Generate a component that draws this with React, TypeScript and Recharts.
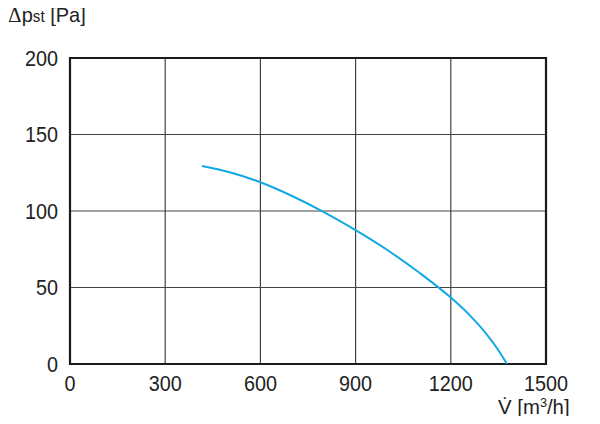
import React from 'react';
import { LineChart, Line, XAxis, YAxis, CartesianGrid, ReferenceArea } from 'recharts';

const flowRates = [416, 500, 600, 700, 800, 900, 1000, 1100, 1200, 1260, 1310, 1350, 1377];
const pressures = [129.4, 125.5, 118.8, 109.8, 99.3, 87.5, 74.5, 59.8, 43.4, 31.8, 20.2, 9, 0];
const xTicks = [0, 300, 600, 900, 1200, 1500];
const yTicks = [0, 50, 100, 150, 200];

const data = flowRates.map((v, i) => ({ v, p: pressures[i] }));

const FONT = '"Liberation Sans", Arial, sans-serif';

// condensed tick text, the original uses a narrow Helvetica
const NarrowTick = (props: any) => {
    const { x, y, payload, textAnchor, dy } = props;
    return (
        <g transform={`translate(${x},${y}) scale(0.9,1)`}>
            <text x={0} y={0} dy={dy} textAnchor={textAnchor} fill="#222" fontSize={22} fontFamily={FONT}>
                {payload.value}
            </text>
        </g>
    );
};

export default function App() {
    return (
        <div style={{ position: 'relative', width: 600, height: 424, margin: -8, background: '#fff', fontFamily: FONT, color: '#222' }}>
            <div style={{ position: 'absolute', left: 8, top: 3, fontSize: 21, whiteSpace: 'nowrap', transform: 'scaleX(0.95)', transformOrigin: 'left' }}>
                <span style={{ fontFamily: '"DejaVu Serif", serif', fontSize: 20 }}>Δ</span>p
                <span style={{ fontSize: 16 }}>st</span> [Pa]
            </div>
            <LineChart
                width={600}
                height={424}
                data={data}
                margin={{ top: 58, right: 54, left: 0, bottom: 30 }}
            >
                <CartesianGrid stroke="#444" strokeWidth={1.2} />
                <XAxis
                    type="number"
                    dataKey="v"
                    domain={[0, 1500]}
                    ticks={xTicks}
                    tick={<NarrowTick dy="0.71em" />}
                    tickLine={false}
                    tickSize={0}
                    tickMargin={11}
                    axisLine={false}
                    height={30}
                />
                <YAxis
                    type="number"
                    domain={[0, 200]}
                    ticks={yTicks}
                    tick={<NarrowTick dy="0.355em" />}
                    tickLine={false}
                    tickSize={0}
                    tickMargin={12}
                    axisLine={false}
                    width={70}
                />
                <ReferenceArea x1={0} x2={1500} y1={0} y2={200} fill="none" stroke="#1a1a1a" strokeWidth={2.2} />
                <Line
                    type="monotone"
                    dataKey="p"
                    stroke="#12a8e4"
                    strokeWidth={2}
                    dot={false}
                    isAnimationActive={false}
                />
            </LineChart>
            <div style={{ position: 'absolute', left: 498, top: 396, fontSize: 21, lineHeight: '22px', whiteSpace: 'nowrap', transform: 'scaleX(0.97)', transformOrigin: 'left' }}>
                V̇ [m<span style={{ fontSize: 13, verticalAlign: 'top', lineHeight: '14px' }}>3</span>/h]
            </div>
        </div>
    );
}
